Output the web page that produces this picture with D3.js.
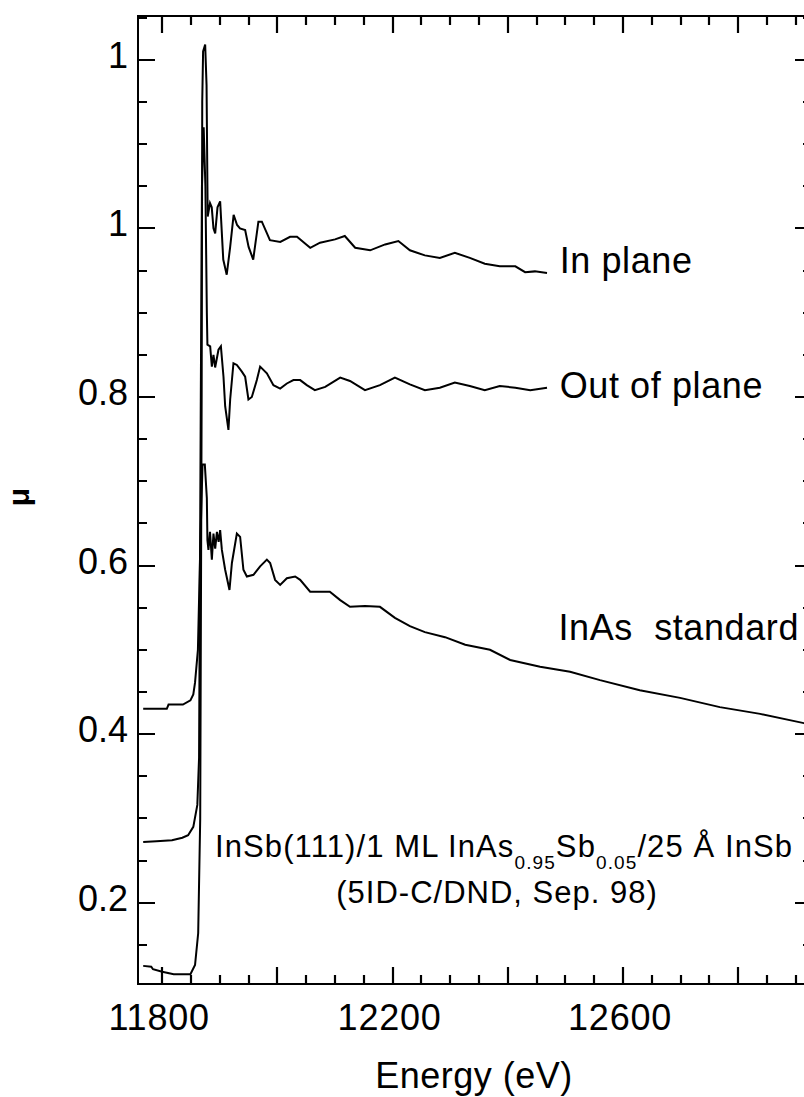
<!DOCTYPE html>
<html>
<head>
<meta charset="utf-8">
<script src="https://cdn.jsdelivr.net/npm/d3@7"></script>
<style>
  html, body { margin: 0; padding: 0; background: #fff; overflow: hidden; }
  svg { display: block; }
  svg text { font-family: "Liberation Sans", Arial, Helvetica, sans-serif; fill: #000; }
</style>
</head>
<body>
<svg id="chart" width="804" height="1097"></svg>
<script>
// As K-edge XANES spectra: [energy (eV), absorption mu]
const inPlane = [
  [11767, 0.125], [11781, 0.124], [11784, 0.121], [11800, 0.118], [11820, 0.115],
  [11849, 0.115], [11857, 0.126], [11862.5, 0.164], [11866, 0.30], [11868.5, 0.80],
  [11869.5, 1.15], [11871, 1.21], [11874.6, 1.218], [11877, 1.17], [11878.5, 1.05],
  [11879, 1.014], [11883, 1.03], [11886, 1.025], [11889, 1.00], [11892, 0.994],
  [11896, 1.025], [11900.6, 1.032], [11906, 0.963], [11912, 0.945], [11918, 0.978],
  [11924, 1.016], [11930, 1.004], [11935, 1.000], [11944, 0.998], [11950, 0.978],
  [11958, 0.963], [11967, 1.008], [11973, 1.008], [11987, 0.986], [12005, 0.984],
  [12022, 0.990], [12034, 0.990], [12048, 0.982], [12057, 0.977], [12074, 0.983],
  [12100, 0.987], [12117, 0.991], [12135, 0.977], [12161, 0.974], [12187, 0.981],
  [12210, 0.985], [12230, 0.974], [12256, 0.968], [12282, 0.965], [12308, 0.971],
  [12334, 0.965], [12360, 0.958], [12386, 0.955], [12413, 0.955], [12430, 0.948],
  [12447, 0.949], [12468, 0.947]
];

const outOfPlane = [
  [11767, 0.272], [11790, 0.273], [11817, 0.274], [11835, 0.277], [11845, 0.280],
  [11854, 0.290], [11861, 0.316], [11864, 0.372], [11867, 0.80], [11869, 1.05],
  [11872, 1.12], [11875, 1.05], [11877.5, 0.90], [11878.5, 0.862], [11883.3, 0.860],
  [11886.2, 0.836], [11889, 0.850], [11891.9, 0.835], [11897.7, 0.856], [11901.9, 0.860],
  [11906.4, 0.824], [11909.3, 0.789], [11915, 0.761], [11918, 0.797], [11923.7, 0.840],
  [11929.6, 0.838], [11938.3, 0.830], [11944, 0.824], [11949.7, 0.797], [11955.6, 0.800],
  [11964.3, 0.820], [11970, 0.836], [11981.7, 0.828], [11993.1, 0.814], [12004.8, 0.810],
  [12016.4, 0.816], [12027.8, 0.820], [12039.5, 0.820], [12051, 0.814], [12065, 0.808],
  [12083, 0.812], [12109, 0.823], [12126, 0.819], [12152, 0.808], [12178, 0.814],
  [12204, 0.823], [12230, 0.815], [12256, 0.808], [12282, 0.811], [12308, 0.817],
  [12334, 0.813], [12360, 0.808], [12386, 0.813], [12413, 0.811], [12439, 0.808],
  [12468, 0.811]
];

const inAsStandard = [
  [11767, 0.430], [11808, 0.430], [11811, 0.435], [11836, 0.435], [11849, 0.440],
  [11854, 0.447], [11857, 0.461], [11862, 0.50], [11866, 0.62], [11870, 0.72],
  [11874, 0.72], [11877.5, 0.68], [11878.5, 0.63], [11880.3, 0.6185], [11883, 0.64],
  [11886.2, 0.607], [11889, 0.638], [11892, 0.62], [11895, 0.64], [11898, 0.628],
  [11900.6, 0.642], [11903.6, 0.6185], [11909.3, 0.595], [11916.8, 0.571], [11921, 0.603],
  [11929.6, 0.638], [11935.3, 0.634], [11941, 0.595], [11947, 0.587], [11958.4, 0.589],
  [11970, 0.599], [11981.7, 0.607], [11987.4, 0.603], [11996, 0.583], [12004.8, 0.577],
  [12016.4, 0.585], [12030.8, 0.587], [12039.5, 0.583], [12056.8, 0.569], [12074, 0.569],
  [12091, 0.569], [12109, 0.559], [12126, 0.551], [12152, 0.552], [12178, 0.551],
  [12204, 0.538], [12230, 0.528], [12256, 0.521], [12291, 0.515], [12326, 0.506],
  [12369, 0.500], [12404, 0.488], [12456, 0.480], [12508, 0.474], [12560, 0.464],
  [12629, 0.452], [12699, 0.443], [12768, 0.432], [12838, 0.424], [12914, 0.413],
  [12928, 0.411]
];

const seriesNames = ["In plane", "Out of plane", "InAs  standard"];
const xLabelTicks = [11800, 12200, 12600];
const xMajorTicks = [11800, 12000, 12200, 12400, 12600, 12800];
const yMajorTicks = [0.2, 0.4, 0.6, 0.8, 1.0, 1.2];
const yTickLabels = ["0.2", "0.4", "0.6", "0.8", "1", "1"];
const xTitle = "Energy (eV)";
const yTitle = "\u03bc";

const svg = d3.select("#chart");
const plot = { left: 138, top: 16, right: 812, bottom: 984 };

const x = d3.scaleLinear().domain([11758, 12928]).range([plot.left, plot.right]);
const y = d3.scaleLinear().domain([0.1035, 1.252]).range([plot.bottom, plot.top]);

const xMinor = d3.range(11800, 12928, 50).filter(v => !xMajorTicks.includes(v));
const yMinor = d3.range(0.15, 1.26, 0.05).map(v => +v.toFixed(2))
  .filter(v => !yMajorTicks.some(t => Math.abs(t - v) < 1e-6));

svg.append("defs").append("clipPath").attr("id", "plotClip")
  .append("rect")
  .attr("x", plot.left).attr("y", plot.top)
  .attr("width", plot.right - plot.left).attr("height", plot.bottom - plot.top);

// frame
svg.append("rect")
  .attr("x", plot.left).attr("y", plot.top)
  .attr("width", plot.right - plot.left).attr("height", plot.bottom - plot.top)
  .attr("fill", "none").attr("stroke", "#000").attr("stroke-width", 2);

// inward ticks on all four sides, one path per side
const majorLen = 17, minorLen = 9;
const px = v => Math.round(x(v)), py = v => Math.round(y(v));
const xTicks = [...xMajorTicks.map(v => [v, majorLen]), ...xMinor.map(v => [v, minorLen])];
const yTicks = [...yMajorTicks.map(v => [v, majorLen]), ...yMinor.map(v => [v, minorLen])];
const tickPaths = [
  xTicks.map(([v, len]) => `M${px(v)},${plot.bottom}V${plot.bottom - len}`).join(""),
  xTicks.map(([v, len]) => `M${px(v)},${plot.top}V${plot.top + len}`).join(""),
  yTicks.map(([v, len]) => `M${plot.left},${py(v)}H${plot.left + len}`).join(""),
  yTicks.map(([v, len]) => `M${plot.right},${py(v)}H${plot.right - len}`).join("")
];
svg.append("g").selectAll("path").data(tickPaths).join("path")
  .attr("d", d => d)
  .attr("fill", "none").attr("stroke", "#000").attr("stroke-width", 2.2);

// tick labels
svg.append("g").selectAll("text").data(xLabelTicks).join("text")
  .attr("x", d => x(d) - 3).attr("y", 1030)
  .attr("text-anchor", "middle").attr("font-size", 36).attr("letter-spacing", 0.8)
  .text(d => d);

svg.append("g").selectAll("text").data(yMajorTicks).join("text")
  .attr("x", 128).attr("y", d => y(d) + 8)
  .attr("text-anchor", "end").attr("font-size", 36)
  .text((d, i) => yTickLabels[i]);

// axis titles
svg.append("text")
  .attr("x", 474).attr("y", 1088)
  .attr("text-anchor", "middle").attr("font-size", 36).attr("letter-spacing", 0.5)
  .text(xTitle);

svg.append("text")
  .attr("transform", "translate(29,497) rotate(-90)")
  .attr("text-anchor", "middle").attr("font-size", 30).attr("font-weight", "bold")
  .text(yTitle);

// spectra
const line = d3.line().x(d => x(d[0])).y(d => y(d[1]));
const g = svg.append("g").attr("clip-path", "url(#plotClip)");
[inPlane, outOfPlane, inAsStandard].forEach(s => {
  g.append("path").datum(s)
    .attr("d", line)
    .attr("fill", "none").attr("stroke", "#000").attr("stroke-width", 2);
});

// series labels
const lab = { size: 36, spacing: 0.6 };
svg.append("text").attr("x", x(12490)).attr("y", 273)
  .attr("font-size", lab.size).attr("letter-spacing", lab.spacing).text(seriesNames[0]);
svg.append("text").attr("x", x(12490)).attr("y", 398)
  .attr("font-size", lab.size).attr("letter-spacing", lab.spacing).text(seriesNames[1]);
svg.append("text").attr("x", x(12488)).attr("y", 640)
  .attr("font-size", lab.size).attr("letter-spacing", lab.spacing)
  .style("white-space", "pre").text(seriesNames[2]);

// sample description
const note = svg.append("text").attr("x", 215).attr("y", 857)
  .attr("font-size", 31).attr("letter-spacing", 1.1);
note.append("tspan").text("InSb(111)/1 ML InAs");
note.append("tspan").attr("font-size", 19).attr("dy", 12).text("0.95");
note.append("tspan").attr("dy", -12).text("Sb");
note.append("tspan").attr("font-size", 19).attr("dy", 12).text("0.05");
note.append("tspan").attr("dy", -12).text("/25 \u00c5 InSb");

svg.append("text").attr("x", 497).attr("y", 903).attr("font-size", 31)
  .attr("letter-spacing", 1).attr("text-anchor", "middle").text("(5ID-C/DND, Sep. 98)");
</script>
</body>
</html>
